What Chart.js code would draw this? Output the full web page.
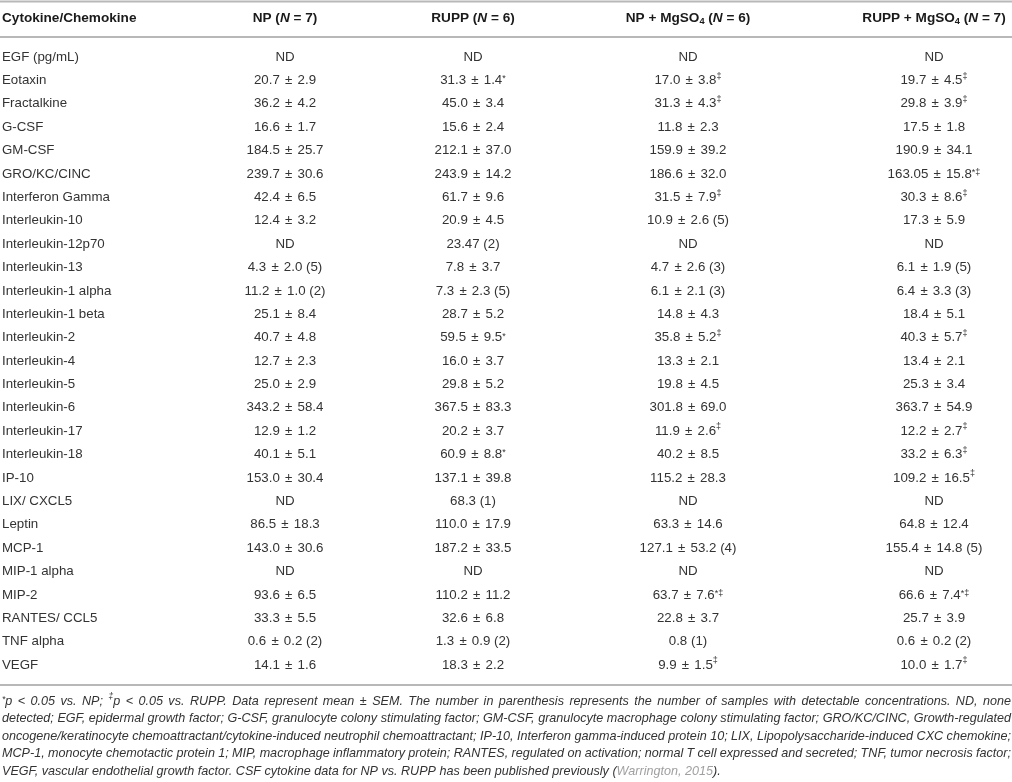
<!DOCTYPE html>
<html>
<head>
<meta charset="utf-8">
<script src="https://cdn.jsdelivr.net/npm/chart.js@4.4.1/dist/chart.umd.min.js"></script>
<style>
html, body { margin: 0; padding: 0; background: #fff; }
#wrap { width: 1012px; height: 782px; position: relative; }
</style>
</head>
<body>
<div id="wrap"><canvas id="tableChart"></canvas></div>
<script>
// Rows of the table
const cytokines = ['EGF (pg/mL)', 'Eotaxin', 'Fractalkine', 'G-CSF', 'GM-CSF', 'GRO/KC/CINC',
    'Interferon Gamma', 'Interleukin-10', 'Interleukin-12p70', 'Interleukin-13', 'Interleukin-1 alpha',
    'Interleukin-1 beta', 'Interleukin-2', 'Interleukin-4', 'Interleukin-5', 'Interleukin-6',
    'Interleukin-17', 'Interleukin-18', 'IP-10', 'LIX/ CXCL5', 'Leptin', 'MCP-1', 'MIP-1 alpha',
    'MIP-2', 'RANTES/ CCL5', 'TNF alpha', 'VEGF'];

// Column headers
const groups = ['NP', 'RUPP', 'NP + MgSO4', 'RUPP + MgSO4'];
const groupN = [7, 6, 6, 7];

// Cell values, mean ± SEM as printed
const npValues = ['ND', '20.7 ± 2.9', '36.2 ± 4.2', '16.6 ± 1.7', '184.5 ± 25.7', '239.7 ± 30.6',
    '42.4 ± 6.5', '12.4 ± 3.2', 'ND', '4.3 ± 2.0 (5)', '11.2 ± 1.0 (2)', '25.1 ± 8.4', '40.7 ± 4.8',
    '12.7 ± 2.3', '25.0 ± 2.9', '343.2 ± 58.4', '12.9 ± 1.2', '40.1 ± 5.1', '153.0 ± 30.4', 'ND',
    '86.5 ± 18.3', '143.0 ± 30.6', 'ND', '93.6 ± 6.5', '33.3 ± 5.5', '0.6 ± 0.2 (2)', '14.1 ± 1.6'];
const ruppValues = ['ND', '31.3 ± 1.4*', '45.0 ± 3.4', '15.6 ± 2.4', '212.1 ± 37.0', '243.9 ± 14.2',
    '61.7 ± 9.6', '20.9 ± 4.5', '23.47 (2)', '7.8 ± 3.7', '7.3 ± 2.3 (5)', '28.7 ± 5.2', '59.5 ± 9.5*',
    '16.0 ± 3.7', '29.8 ± 5.2', '367.5 ± 83.3', '20.2 ± 3.7', '60.9 ± 8.8*', '137.1 ± 39.8', '68.3 (1)',
    '110.0 ± 17.9', '187.2 ± 33.5', 'ND', '110.2 ± 11.2', '32.6 ± 6.8', '1.3 ± 0.9 (2)', '18.3 ± 2.2'];
const npMgValues = ['ND', '17.0 ± 3.8‡', '31.3 ± 4.3‡', '11.8 ± 2.3', '159.9 ± 39.2', '186.6 ± 32.0',
    '31.5 ± 7.9‡', '10.9 ± 2.6 (5)', 'ND', '4.7 ± 2.6 (3)', '6.1 ± 2.1 (3)', '14.8 ± 4.3', '35.8 ± 5.2‡',
    '13.3 ± 2.1', '19.8 ± 4.5', '301.8 ± 69.0', '11.9 ± 2.6‡', '40.2 ± 8.5', '115.2 ± 28.3', 'ND',
    '63.3 ± 14.6', '127.1 ± 53.2 (4)', 'ND', '63.7 ± 7.6*‡', '22.8 ± 3.7', '0.8 (1)', '9.9 ± 1.5‡'];
const ruppMgValues = ['ND', '19.7 ± 4.5‡', '29.8 ± 3.9‡', '17.5 ± 1.8', '190.9 ± 34.1', '163.05 ± 15.8*‡',
    '30.3 ± 8.6‡', '17.3 ± 5.9', 'ND', '6.1 ± 1.9 (5)', '6.4 ± 3.3 (3)', '18.4 ± 5.1', '40.3 ± 5.7‡',
    '13.4 ± 2.1', '25.3 ± 3.4', '363.7 ± 54.9', '12.2 ± 2.7‡', '33.2 ± 6.3‡', '109.2 ± 16.5‡', 'ND',
    '64.8 ± 12.4', '155.4 ± 14.8 (5)', 'ND', '66.6 ± 7.4*‡', '25.7 ± 3.9', '0.6 ± 0.2 (2)', '10.0 ± 1.7‡'];

// Footnote, one entry per printed line
const footnote = [
    [{ t: '*', sup: true }, { t: 'p < 0.05 vs. NP; ' }, { t: '‡', sup: true },
     { t: 'p < 0.05 vs. RUPP. Data represent mean ± SEM. The number in parenthesis represents the number of samples with detectable concentrations. ND, none' }],
    [{ t: 'detected; EGF, epidermal growth factor; G-CSF, granulocyte colony stimulating factor; GM-CSF, granulocyte macrophage colony stimulating factor; GRO/KC/CINC, Growth-regulated' }],
    [{ t: 'oncogene/keratinocyte chemoattractant/cytokine-induced neutrophil chemoattractant; IP-10, Interferon gamma-induced protein 10; LIX, Lipopolysaccharide-induced CXC chemokine;' }],
    [{ t: 'MCP-1, monocyte chemotactic protein 1; MIP, macrophage inflammatory protein; RANTES, regulated on activation; normal T cell expressed and secreted; TNF, tumor necrosis factor;' }],
    [{ t: 'VEGF, vascular endothelial growth factor. CSF cytokine data for NP vs. RUPP has been published previously (' },
     { t: 'Warrington, 2015', link: true }, { t: ').' }]
];

// Layout / style
const FAMILY = '"Liberation Sans", Arial, Helvetica, sans-serif';
const COL_X = [2, 285, 473, 688, 934];   // text anchor of each column on the x scale
const TEXT_COLOR = '#333';
const HEAD_COLOR = '#1a1a1a';
const RULE_COLOR = '#b8b8b8';
const LINK_COLOR = '#a0a0a0';

function fontFor(seg, style) {
    const size = (seg.sup || seg.sub) ? style.size * 0.68 : style.size;
    const italic = seg.italic !== undefined ? seg.italic : style.italic;
    return (italic ? 'italic ' : '') + (style.bold ? 'bold ' : '') + size.toFixed(2) + 'px ' + FAMILY;
}

function measureSegs(ctx, segs, style) {
    let w = 0;
    segs.forEach(s => {
        ctx.font = fontFor(s, style);
        w += ctx.measureText(s.t).width + (s.pad || 0) * 2;
    });
    return w;
}

function drawSegs(ctx, segs, x, y, style) {
    segs.forEach(s => {
        ctx.font = fontFor(s, style);
        ctx.fillStyle = s.link ? LINK_COLOR : style.color;
        let dy = 0;
        if (s.sup) dy = s.t.startsWith('*') ? -style.size * 0.12 : -style.size * 0.32;
        if (s.sub) dy = style.size * 0.28;
        x += s.pad || 0;
        ctx.fillText(s.t, x, y + dy);
        x += ctx.measureText(s.t).width + (s.pad || 0);
    });
    return x;
}

// split "12.2 ± 2.7‡" into plain text, a slightly wider ± and superscript marks
function cellSegs(txt) {
    const m = txt.match(/^(.*?)([*‡]+)$/);
    const main = m ? m[1] : txt;
    const segs = [];
    main.split(' ± ').forEach((part, k) => {
        if (k > 0) segs.push({ t: ' ± ', pad: 1.5 });
        segs.push({ t: part });
    });
    if (m) segs.push({ t: m[2], sup: true });
    return segs;
}

function headerSegs(name, n) {
    const m = name.match(/^(.*SO)(\d)$/);
    const base = m ? [{ t: m[1] }, { t: m[2], sub: true }] : [{ t: name }];
    return base.concat([{ t: ' (' }, { t: 'N', italic: true }, { t: ' = ' + n + ')' }]);
}

function toWords(segs) {
    const words = [[]];
    segs.forEach(s => {
        s.t.split(' ').forEach((part, k) => {
            if (k > 0) words.push([]);
            if (part) words[words.length - 1].push(Object.assign({}, s, { t: part }));
        });
    });
    return words.filter(w => w.length);
}

const tablePlugin = {
    id: 'tableText',
    afterDatasetsDraw(chart) {
        const { ctx, scales: { x, y } } = chart;
        const row0 = y.getPixelForValue(0);
        const rowLast = y.getPixelForValue(cytokines.length - 1);
        const left = x.getPixelForValue(0), right = x.getPixelForValue(1012);
        ctx.save();
        ctx.textBaseline = 'middle';

        // rules
        ctx.strokeStyle = RULE_COLOR;
        ctx.lineWidth = 2;
        [row0 - 55.5, row0 - 20, rowLast + 20].forEach(yy => {
            ctx.beginPath();
            ctx.moveTo(left, yy);
            ctx.lineTo(right, yy);
            ctx.stroke();
        });

        // header row
        const headStyle = { size: 13.6, bold: true, italic: false, color: HEAD_COLOR };
        const headY = row0 - 39;
        ctx.textAlign = 'left';
        drawSegs(ctx, [{ t: 'Cytokine/Chemokine' }], x.getPixelForValue(COL_X[0]), headY, headStyle);
        groups.forEach((g, i) => {
            const segs = headerSegs(g, groupN[i]);
            const w = measureSegs(ctx, segs, headStyle);
            drawSegs(ctx, segs, x.getPixelForValue(COL_X[i + 1]) - w / 2, headY, headStyle);
        });

        // body cells, placed at each dataset element
        const cellStyle = { size: 13.3, bold: false, italic: false, color: TEXT_COLOR };
        chart.data.datasets.forEach((ds, di) => {
            const meta = chart.getDatasetMeta(di);
            meta.data.forEach((el, j) => {
                const segs = di === 0 ? [{ t: ds.cells[j] }] : cellSegs(ds.cells[j]);
                const w = measureSegs(ctx, segs, cellStyle);
                const x0 = ds.align === 'left' ? el.x : el.x - w / 2;
                drawSegs(ctx, segs, x0, el.y, cellStyle);
            });
        });

        // footnote, justified except the last line
        const avail = right - left - 3;
        let fs = 12.6;
        const noteWords = footnote.map(toWords);
        let widest = 0;
        noteWords.slice(0, -1).forEach(words => {
            const st = { size: fs, italic: true, color: TEXT_COLOR };
            ctx.font = fontFor({}, st);
            const sp = ctx.measureText(' ').width * 0.8;
            const w = words.reduce((a, wd) => a + measureSegs(ctx, wd, st), 0) + sp * (words.length - 1);
            widest = Math.max(widest, w);
        });
        if (widest > avail) fs = fs * avail / widest;
        const noteStyle = { size: fs, italic: true, color: TEXT_COLOR };
        ctx.font = fontFor({}, noteStyle);
        const space = ctx.measureText(' ').width;
        noteWords.forEach((words, li) => {
            const yy = rowLast + 36 + li * 17.6;
            const widths = words.map(wd => measureSegs(ctx, wd, noteStyle));
            const total = widths.reduce((a, b) => a + b, 0);
            const gap = li < noteWords.length - 1 ? (avail - total) / (words.length - 1) : space;
            let xx = left + 2;
            words.forEach((wd, k) => {
                drawSegs(ctx, wd, xx, yy, noteStyle);
                xx += widths[k] + gap;
            });
        });
        ctx.restore();
    }
};

const columns = [cytokines, npValues, ruppValues, npMgValues, ruppMgValues];
const datasets = columns.map((cells, i) => ({
    label: i === 0 ? 'Cytokine/Chemokine' : groups[i - 1],
    cells: cells,
    align: i === 0 ? 'left' : 'center',
    data: cells.map((c, j) => ({ x: COL_X[i], y: j })),
    pointRadius: 0,
    pointHoverRadius: 0,
    showLine: false
}));

new Chart(document.getElementById('tableChart').getContext('2d'), {
    type: 'scatter',
    data: { datasets: datasets },
    options: {
        responsive: true,
        maintainAspectRatio: false,
        animation: false,
        events: [],
        layout: { padding: { top: 57, bottom: 117, left: 0, right: 0 } },
        plugins: { legend: { display: false }, tooltip: { enabled: false } },
        scales: {
            x: { type: 'linear', min: 0, max: 1012, display: false },
            y: { type: 'linear', min: 0, max: cytokines.length - 1, reverse: true, display: false }
        }
    },
    plugins: [tablePlugin]
});
</script>
</body>
</html>
